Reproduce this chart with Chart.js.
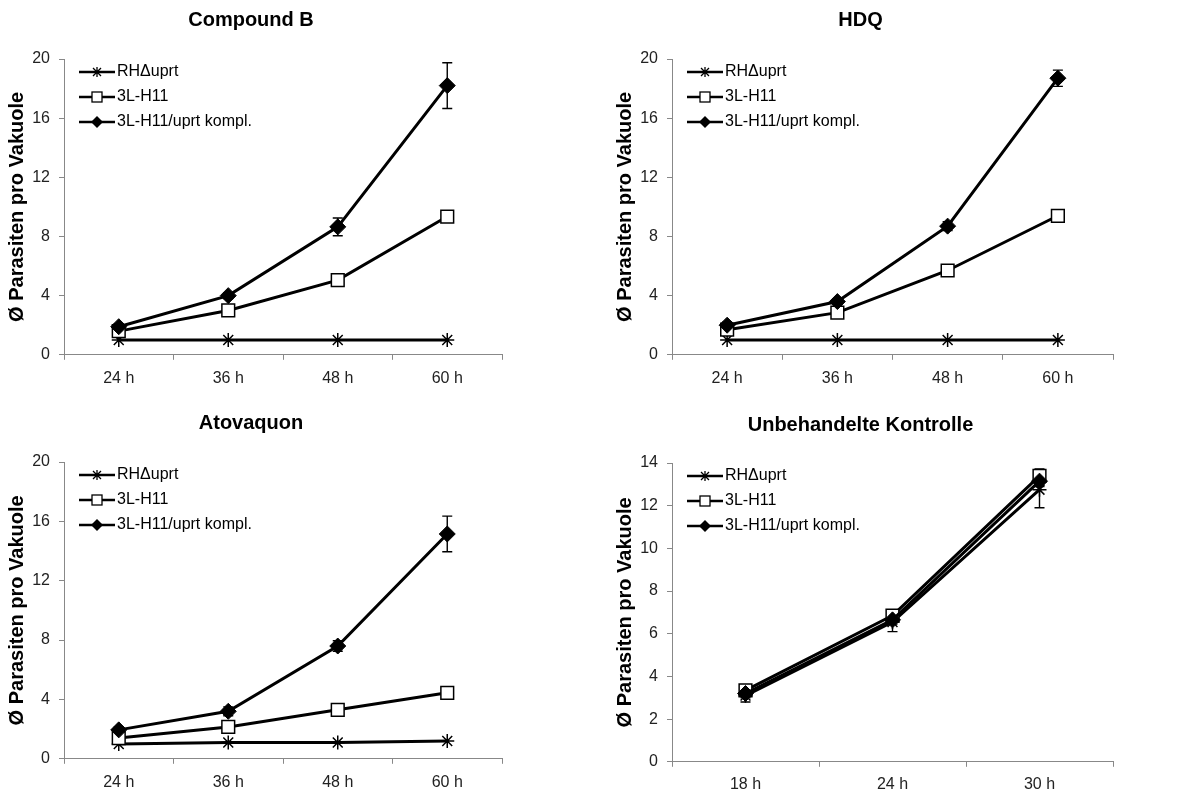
<!DOCTYPE html>
<html>
<head>
<meta charset="utf-8">
<script src="https://cdn.jsdelivr.net/npm/chart.js@4.4.0/dist/chart.umd.min.js"></script>
<style>
  body { margin: 0; background: #fff; width: 1184px; height: 794px; position: relative; overflow: hidden; }
  canvas { position: absolute; }
</style>
</head>
<body>
<canvas id="c1" width="506" height="397" style="left:0;top:0"></canvas>
<canvas id="c2" width="510" height="397" style="left:608px;top:0"></canvas>
<canvas id="c3" width="506" height="404" style="left:0;top:400px"></canvas>
<canvas id="c4" width="510" height="404" style="left:608px;top:400px"></canvas>
<script>
// Series names and x categories
const seriesNames = ['RH\u0394uprt', '3L-H11', '3L-H11/uprt kompl.'];
const hoursTreated = ['24 h', '36 h', '48 h', '60 h'];
const hoursControl = ['18 h', '24 h', '30 h'];

// Compound B
const compB_rh = [1.0, 1.0, 1.0, 1.0];
const compB_3l = [1.6, 3.0, 5.05, 9.35];
const compB_kompl = [1.9, 4.0, 8.65, 18.2];
const compB_komplErr = [0.2, 0.2, 0.6, 1.55];

// HDQ
const hdq_rh = [1.0, 1.0, 1.0, 1.0];
const hdq_3l = [1.7, 2.85, 5.7, 9.4];
const hdq_kompl = [2.0, 3.6, 8.7, 18.7];
const hdq_komplErr = [0.2, 0.2, 0.3, 0.55];

// Atovaquon
const atov_rh = [1.0, 1.1, 1.1, 1.2];
const atov_3l = [1.4, 2.15, 3.3, 4.45];
const atov_kompl = [1.95, 3.2, 7.6, 15.15];
const atov_komplErr = [0.2, 0.3, 0.35, 1.2];

// Unbehandelte Kontrolle
const ctrl_rh = [3.1, 6.55, 12.75];
const ctrl_rhErr = [0.3, 0.45, 0.85];
const ctrl_3l = [3.35, 6.85, 13.4];
const ctrl_3lErr = [0.2, 0.2, 0.32];
const ctrl_kompl = [3.2, 6.65, 13.15];
const ctrl_komplErr = [0.2, 0.2, 0.25];

const yTitle = '\u00D8 Parasiten pro Vakuole';

Chart.defaults.font.family = "'Liberation Sans', Arial, sans-serif";

// legend glyph: line with the series marker on it
function legendIcon(kind) {
    const c = document.createElement('canvas');
    c.width = 48; c.height = 18;
    const g = c.getContext('2d');
    g.strokeStyle = '#000';
    g.lineWidth = 2.5;
    g.beginPath(); g.moveTo(12, 9); g.lineTo(48, 9); g.stroke();
    const cx = 30, cy = 9;
    g.lineWidth = 1.3;
    if (kind === 'star') {
        g.beginPath();
        g.moveTo(cx - 4, cy - 4); g.lineTo(cx + 4, cy + 4);
        g.moveTo(cx + 4, cy - 4); g.lineTo(cx - 4, cy + 4);
        g.moveTo(cx, cy - 5); g.lineTo(cx, cy + 5);
        g.stroke();
    } else if (kind === 'rect') {
        g.fillStyle = '#fff';
        g.fillRect(cx - 5, cy - 5, 10, 10);
        g.strokeRect(cx - 5, cy - 5, 10, 10);
    } else {
        g.fillStyle = '#000';
        g.beginPath();
        g.moveTo(cx, cy - 6); g.lineTo(cx + 6, cy); g.lineTo(cx, cy + 6); g.lineTo(cx - 6, cy);
        g.closePath(); g.fill();
    }
    return c;
}
const legendIcons = [legendIcon('star'), legendIcon('rect'), legendIcon('diamond')];

const errorBars = {
    id: 'errorBars',
    beforeDatasetsDraw(chart) {
        const ctx = chart.ctx;
        const y = chart.scales.y;
        ctx.save();
        ctx.strokeStyle = '#000';
        ctx.lineWidth = 1.4;
        chart.data.datasets.forEach((ds, i) => {
            if (!ds.errors) return;
            chart.getDatasetMeta(i).data.forEach((pt, j) => {
                const e = ds.errors[j];
                if (!e) return;
                const top = y.getPixelForValue(ds.data[j] + e);
                const bot = y.getPixelForValue(ds.data[j] - e);
                ctx.beginPath();
                ctx.moveTo(pt.x, top); ctx.lineTo(pt.x, bot);
                ctx.moveTo(pt.x - 5, top); ctx.lineTo(pt.x + 5, top);
                ctx.moveTo(pt.x - 5, bot); ctx.lineTo(pt.x + 5, bot);
                ctx.stroke();
            });
        });
        ctx.restore();
    }
};

// put the legend inside the plot area, top left
const legendInPlot = {
    id: 'legendInPlot',
    afterLayout(chart, args, opts) {
        const lg = chart.legend;
        if (!lg) return;
        const h = lg.bottom - lg.top;
        lg.top = chart.chartArea.top + (opts.dy || 0);
        lg.bottom = lg.top + h;
        lg.left = chart.chartArea.left;
    }
};

function makeChart(id, title, labels, rh, l3, kompl, errs, yMax, yStep, lay) {
    const ctx = document.getElementById(id).getContext('2d');
    return new Chart(ctx, {
        type: 'line',
        data: {
            labels: labels,
            datasets: [
                {
                    label: seriesNames[0], data: rh, errors: errs[0], order: 3,
                    borderColor: '#000', borderWidth: 3, tension: 0,
                    pointStyle: 'star', pointRadius: 7, pointBorderWidth: 1.5,
                    pointBorderColor: '#000', pointBackgroundColor: '#000'
                },
                {
                    label: seriesNames[1], data: l3, errors: errs[1], order: 2,
                    borderColor: '#000', borderWidth: 3, tension: 0,
                    pointStyle: 'rect', pointRadius: 9, pointBorderWidth: 1.5,
                    pointBorderColor: '#000', pointBackgroundColor: '#fff'
                },
                {
                    label: seriesNames[2], data: kompl, errors: errs[2], order: 1,
                    borderColor: '#000', borderWidth: 3, tension: 0,
                    pointStyle: 'rectRot', pointRadius: 8, pointBorderWidth: 1,
                    pointBorderColor: '#000', pointBackgroundColor: '#000'
                }
            ]
        },
        options: {
            responsive: false,
            animation: false,
            events: [],
            layout: { autoPadding: false, padding: { left: 0, right: lay.right, top: 0, bottom: lay.bottom } },
            scales: {
                x: {
                    type: 'category',
                    offset: true,
                    grid: { offset: true, drawOnChartArea: false, drawTicks: true, tickLength: 5, color: '#888' },
                    border: { color: '#888', width: 1 },
                    ticks: { color: '#222', font: { size: 16 }, padding: lay.xPad }
                },
                y: {
                    min: 0, max: yMax,
                    afterFit(scale) { scale.width = 64; },
                    grid: { drawOnChartArea: false, drawTicks: true, tickLength: 5, color: '#888' },
                    border: { color: '#888', width: 1 },
                    ticks: { stepSize: yStep, color: '#222', font: { size: 16 }, padding: 9 },
                    title: {
                        display: true, text: yTitle, color: '#000',
                        font: { size: 20, weight: 'bold' }, padding: { top: 5, bottom: 0 }
                    }
                }
            },
            plugins: {
                title: {
                    display: true, text: title, color: '#000',
                    font: { size: 20, weight: 'bold' },
                    padding: { top: lay.titleTop, bottom: lay.titleBottom }
                },
                legend: {
                    position: 'chartArea',
                    align: 'start',
                    labels: {
                        usePointStyle: true,
                        pointStyleWidth: 36,
                        padding: 9,
                        color: '#000',
                        font: { size: 16 },
                        generateLabels(chart) {
                            return chart.data.datasets.map((ds, i) => ({
                                text: ds.label,
                                pointStyle: legendIcons[i],
                                datasetIndex: i,
                                fillStyle: '#000',
                                strokeStyle: '#000',
                                lineWidth: 0,
                                hidden: false,
                                fontColor: '#000'
                            }));
                        }
                    }
                },
                legendInPlot: { dy: -4 },
                tooltip: { enabled: false }
            }
        },
        plugins: [errorBars, legendInPlot]
    });
}

makeChart('c1', 'Compound B', hoursTreated, compB_rh, compB_3l, compB_kompl,
    [null, null, compB_komplErr], 20, 4,
    { right: 4, bottom: 0, titleTop: 8, titleBottom: 27, xPad: 9 });
makeChart('c2', 'HDQ', hoursTreated, hdq_rh, hdq_3l, hdq_kompl,
    [null, null, hdq_komplErr], 20, 4,
    { right: 5, bottom: 0, titleTop: 8, titleBottom: 27, xPad: 9 });
makeChart('c3', 'Atovaquon', hoursTreated, atov_rh, atov_3l, atov_kompl,
    [null, null, atov_komplErr], 20, 4,
    { right: 4, bottom: 3, titleTop: 11, titleBottom: 27, xPad: 9 });
makeChart('c4', 'Unbehandelte Kontrolle', hoursControl, ctrl_rh, ctrl_3l, ctrl_kompl,
    [ctrl_rhErr, ctrl_3lErr, ctrl_komplErr], 14, 2,
    { right: 5, bottom: 2, titleTop: 13, titleBottom: 26, xPad: 8 });
</script>
</body>
</html>
